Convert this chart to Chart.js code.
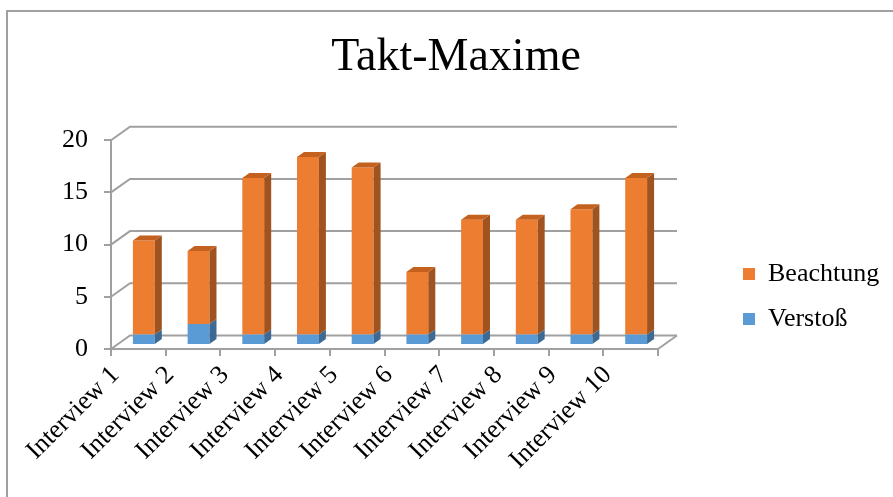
<!DOCTYPE html>
<html>
<head>
<meta charset="utf-8">
<script src="https://cdn.jsdelivr.net/npm/chart.js@4.4.1/dist/chart.umd.min.js"></script>
<style>
  html, body { margin: 0; padding: 0; background: #fff; }
  #wrap { position: relative; width: 893px; height: 497px; overflow: hidden; }
  #rahmen { position: absolute; left: 6px; top: 10px; right: -2px; bottom: -2px; border-left: 2px solid #a0a0a0; border-top: 2px solid #a0a0a0; }
  canvas { position: absolute; left: 0; top: 0; }
</style>
</head>
<body>
<div id="wrap"><div id="rahmen"></div><canvas id="chart" width="893" height="497"></canvas></div>
<script>
// Daten
const interviews = ['Interview 1', 'Interview 2', 'Interview 3', 'Interview 4', 'Interview 5',
                    'Interview 6', 'Interview 7', 'Interview 8', 'Interview 9', 'Interview 10'];
const verstoss = [1, 2, 1, 1, 1, 1, 1, 1, 1, 1];
const beachtung = [9, 7, 15, 17, 16, 6, 11, 11, 12, 15];
const yMax = 20;
const yStep = 5;

const schrift = "'Liberation Serif', 'Times New Roman', serif";
const grau = '#a0a0a0';

// 3D-Optik: Tiefe der Wand und der Säulen (in Pixeln)
const wand = { dx: 19, dy: -13.5 };
const saeule = { dx: 5.5, dy: -4, sx: 7, sy: -5 };

const dreiD = {
    id: 'dreiD',
    afterLayout(chart) {
        // Titel und Legende dorthin, wo sie im Original stehen
        const t = chart.titleBlock;
        const shift = 456 - (t.left + t.right) / 2;
        t.left += shift;
        t.right += shift;

        const lg = chart.legend;
        const w = lg.right - lg.left, h = lg.bottom - lg.top;
        lg.left = 724;
        lg.right = lg.left + w;
        lg.top = 242;
        lg.bottom = lg.top + h;
    },
    beforeDatasetsDraw(chart) {
        const ctx = chart.ctx;
        const xs = chart.scales.x, ys = chart.scales.y;
        const y0 = ys.getPixelForValue(0);
        ctx.save();
        ctx.strokeStyle = grau;
        ctx.lineWidth = 2;
        // Rückwand-Gitterlinien mit Diagonale an der linken Wand
        ys.ticks.forEach(t => {
            const py = ys.getPixelForValue(t.value);
            ctx.beginPath();
            ctx.moveTo(xs.left, py);
            ctx.lineTo(xs.left + wand.dx, py + wand.dy);
            ctx.lineTo(xs.right + wand.dx, py + wand.dy);
            ctx.stroke();
        });
        // rechte Bodenkante
        ctx.beginPath();
        ctx.moveTo(xs.right, y0);
        ctx.lineTo(xs.right + wand.dx, y0 + wand.dy);
        ctx.stroke();
        ctx.restore();

        // Säulen etwas nach hinten versetzt zeichnen
        ctx.save();
        ctx.translate(saeule.dx, saeule.dy);
    },
    afterDatasetsDraw(chart) {
        const ctx = chart.ctx;
        const last = chart.data.datasets.length - 1;
        const quad = (pts, farbe) => {
            ctx.beginPath();
            ctx.moveTo(pts[0][0], pts[0][1]);
            for (let k = 1; k < pts.length; k++) ctx.lineTo(pts[k][0], pts[k][1]);
            ctx.closePath();
            ctx.fillStyle = farbe;
            ctx.fill();
        };
        chart.data.datasets.forEach((ds, i) => {
            const meta = chart.getDatasetMeta(i);
            meta.data.forEach(bar => {
                const { x, y, base, width } = bar.getProps(['x', 'y', 'base', 'width'], true);
                const l = x - width / 2, r = x + width / 2;
                const oben = Math.min(y, base), unten = Math.max(y, base);
                quad([[r, unten], [r + saeule.sx, unten + saeule.sy], [r + saeule.sx, oben + saeule.sy], [r, oben]], ds.seite);
                if (i === last) {
                    quad([[l, oben], [r, oben], [r + saeule.sx, oben + saeule.sy], [l + saeule.sx, oben + saeule.sy]], ds.deckel);
                }
            });
        });
        ctx.restore();
    }
};

new Chart(document.getElementById('chart'), {
    type: 'bar',
    data: {
        labels: interviews,
        datasets: [
            {
                label: 'Verstoß',
                data: verstoss,
                backgroundColor: '#5B9BD5',
                seite: '#3D6A95',
                deckel: '#4A80B2',
                barPercentage: 0.4,
                categoryPercentage: 1
            },
            {
                label: 'Beachtung',
                data: beachtung,
                backgroundColor: '#ED7D31',
                seite: '#A0531F',
                deckel: '#C4611F',
                barPercentage: 0.4,
                categoryPercentage: 1
            }
        ]
    },
    options: {
        responsive: false,
        animation: false,
        layout: { padding: { left: 0, right: 235, top: 0, bottom: 0 } },
        plugins: {
            title: {
                display: true,
                text: 'Takt-Maxime',
                color: '#000',
                font: { family: schrift, size: 46, weight: 'normal', lineHeight: 1.2 },
                padding: { top: 30, bottom: 55 }
            },
            legend: {
                position: 'chartArea',
                align: 'start',
                reverse: true,
                labels: {
                    color: '#000',
                    boxWidth: 12,
                    boxHeight: 12,
                    padding: 19,
                    font: { family: schrift, size: 26 }
                }
            },
            tooltip: { enabled: false }
        },
        scales: {
            x: {
                stacked: true,
                border: { color: grau, width: 2 },
                grid: { drawOnChartArea: false, color: grau, lineWidth: 2, tickLength: 7 },
                ticks: {
                    color: '#000',
                    autoSkip: false,
                    minRotation: 45,
                    maxRotation: 45,
                    labelOffset: -23,
                    padding: 4,
                    font: { family: schrift, size: 26 }
                },
                afterFit(scale) { scale.height = 148; }
            },
            y: {
                stacked: true,
                min: 0,
                max: yMax,
                border: { color: grau, width: 2 },
                grid: { drawOnChartArea: false, color: grau, lineWidth: 2, tickLength: 7 },
                ticks: {
                    stepSize: yStep,
                    color: '#000',
                    padding: 16,
                    font: { family: schrift, size: 26 }
                },
                afterFit(scale) { scale.width = 111; }
            }
        }
    },
    plugins: [dreiD]
});
</script>
</body>
</html>
